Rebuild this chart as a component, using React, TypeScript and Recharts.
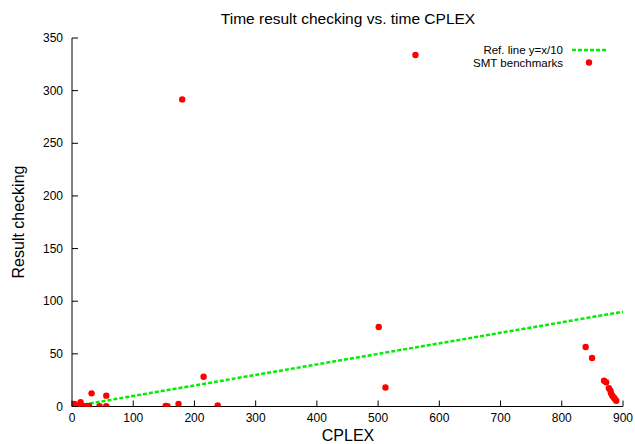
import React from 'react';
import { ScatterChart, Scatter, XAxis, YAxis } from 'recharts';

const cplexTimes = [0.5, 1.5, 3, 4, 6, 8, 10, 14, 20, 24, 28, 32, 45, 56, 56, 153, 156, 174, 180, 215, 238, 501, 512, 561, 839, 849.5, 869, 872.5, 877, 879.5, 880.5, 882.5, 885, 886.5, 889];
const checkTimes = [0.3, 1.5, 0.5, 2.5, 0.8, 0.3, 1, 4, 0.4, 0.3, 0.6, 12.5, 0.4, 10.3, 0.4, 0.6, 0.3, 2.4, 291.7, 28.3, 1.1, 75.5, 18, 333.8, 56.5, 46, 24.5, 23, 17.3, 15, 12.5, 10.3, 8.5, 7.4, 5.5];
const refLineX = [0, 900];
const xTicks = [0, 100, 200, 300, 400, 500, 600, 700, 800, 900];
const yTicks = [0, 50, 100, 150, 200, 250, 300, 350];

const points = cplexTimes.map((x, i) => ({ x, y: checkTimes[i] }));
const refLine = refLineX.map((x) => ({ x, y: x / 10 }));

const FONT = '"Liberation Sans", Arial, Helvetica, sans-serif';

const XTick = (props: any) => {
  const { x, y, payload } = props;
  return (
    <g>
      <line x1={x} y1={y} x2={x} y2={y - 6} stroke="#000" strokeWidth={1} />
      <text x={x} y={y + 15} textAnchor="middle" fontSize={12} fontFamily={FONT} fill="#000">
        {payload.value}
      </text>
    </g>
  );
};

const YTick = (props: any) => {
  const { x, y, payload } = props;
  return (
    <g>
      <line x1={x} y1={y} x2={x + 6} y2={y} stroke="#000" strokeWidth={1} />
      <text x={x - 9} y={y + 4} textAnchor="end" fontSize={12} fontFamily={FONT} fill="#000">
        {payload.value}
      </text>
    </g>
  );
};

const Dot = (props: any) => {
  const { cx, cy } = props;
  if (cx == null || cy == null) return <g />;
  return <circle cx={cx} cy={cy} r={3.2} fill="#ff0000" />;
};

const NoShape = () => <g />;

export default function App() {
  return (
    <div style={{ position: 'absolute', left: 0, top: 0, width: 635, height: 444, background: '#fff' }}>
      <ScatterChart width={635} height={444} margin={{ top: 38, right: 12, bottom: 7.5, left: 22 }}>
        <XAxis
          type="number"
          dataKey="x"
          domain={[0, 900]}
          ticks={xTicks}
          allowDataOverflow
          tickLine={false}
          tickSize={0}
          tickMargin={0}
          height={30}
          axisLine={{ stroke: '#000', strokeWidth: 1 }}
          tick={<XTick />}
        />
        <YAxis
          type="number"
          dataKey="y"
          domain={[0, 350]}
          ticks={yTicks}
          allowDataOverflow
          tickLine={false}
          tickSize={0}
          tickMargin={0}
          width={50}
          axisLine={{ stroke: '#000', strokeWidth: 1 }}
          tick={<YTick />}
        />
        <Scatter
          data={refLine}
          line={{ stroke: '#00ee00', strokeWidth: 2.5, strokeDasharray: '4 2' }}
          shape={<NoShape />}
          isAnimationActive={false}
        />
        <Scatter data={points} shape={<Dot />} isAnimationActive={false} />
      </ScatterChart>
      <svg width={635} height={444} style={{ position: 'absolute', left: 0, top: 0, pointerEvents: 'none' }}>
        <text x={348} y={24} textAnchor="middle" fontSize={15.5} fontFamily={FONT} fill="#000">
          Time result checking vs. time CPLEX
        </text>
        <text x={348} y={441} textAnchor="middle" fontSize={16} fontFamily={FONT} fill="#000">
          CPLEX
        </text>
        <text
          x={0}
          y={0}
          transform="translate(24,222) rotate(-90)"
          textAnchor="middle"
          fontSize={16}
          fontFamily={FONT}
          fill="#000"
        >
          Result checking
        </text>
        <text x={563} y={53.5} textAnchor="end" fontSize={11.5} fontFamily={FONT} fill="#000">
          Ref. line y=x/10
        </text>
        <line x1={572} y1={50} x2={608} y2={50} stroke="#00ee00" strokeWidth={2.5} strokeDasharray="4 2" />
        <text x={563} y={66.5} textAnchor="end" fontSize={11.5} fontFamily={FONT} fill="#000">
          SMT benchmarks
        </text>
        <circle cx={589} cy={62.5} r={3.2} fill="#ff0000" />
      </svg>
    </div>
  );
}
